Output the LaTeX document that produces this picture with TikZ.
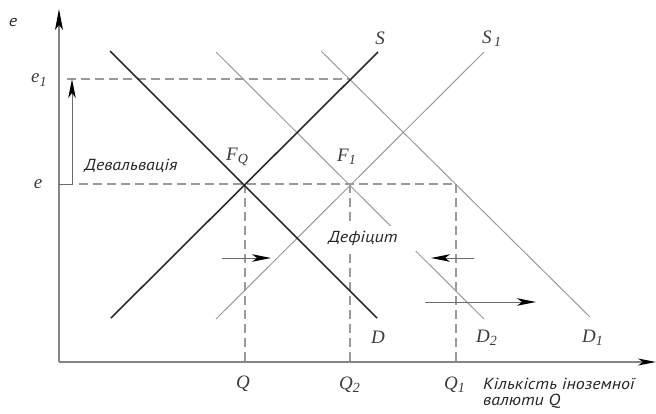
\documentclass[tikz,border=0pt]{standalone}
\usepackage{fontspec}
\setmainfont{Liberation Serif}
\newfontfamily\labsans[FakeStretch=1.12]{PT Sans}
\usetikzlibrary{arrows.meta}
\definecolor{axisc}{HTML}{858585}
\definecolor{darkc}{HTML}{2B2B2B}
\definecolor{thinc}{HTML}{9A9A9A}
\definecolor{dashc}{HTML}{9A9A9A}
\definecolor{labc}{HTML}{3F3A33}
\definecolor{arrc}{HTML}{6A6A6A}
\tikzset{
  tip/.style={-{Stealth[length=19pt,width=7.5pt,inset=5pt,color=black]}},
  axisline/.style={draw=axisc,line width=1.3pt},
  mainline/.style={draw=darkc,line width=1.6pt},
  thinline/.style={draw=thinc,line width=1pt},
  dashline/.style={draw=dashc,line width=1.3pt,dash pattern=on 9pt off 5pt},
  shiftarrow/.style={draw=arrc,line width=1pt,tip},
  mlab/.style={text=labc,font=\fontsize{19}{19}\selectfont\itshape,inner sep=0pt},
  slab/.style={text=black!85,font=\fontsize{16}{18}\selectfont\labsans\itshape,inner sep=0pt},
}
\newcommand{\sub}[1]{\textsubscript{\fontsize{14}{14}\selectfont #1}}
\begin{document}
\begin{tikzpicture}[x=1pt,y=-1pt]
\useasboundingbox (0,0) rectangle (656,413);
% coordinates
\coordinate (O) at (59,362);
\coordinate (Ytop) at (59,9);
\coordinate (Xend) at (656,362);
\coordinate (Sa) at (111,318); \coordinate (Sb) at (378,52);
\coordinate (Da) at (110,51); \coordinate (Db) at (377,318);
\coordinate (S1a) at (216,319); \coordinate (S1b) at (484,52);
\coordinate (D2a) at (216,52); \coordinate (D2b) at (484,319);
\coordinate (D1a) at (321,51); \coordinate (D1b) at (590,317);
\coordinate (FQ) at (245,184);
\coordinate (F1) at (350,184);
\coordinate (E1p) at (350,79);
\coordinate (Q1t) at (456,184);
\coordinate (Qb) at (245,362);
\coordinate (Q2b) at (350,362);
\coordinate (Q1b) at (456,362);
\coordinate (estart) at (79,184);
\coordinate (e1start) at (67,79);
\coordinate (eax) at (59,184);
\coordinate (dvb) at (72,184);
\coordinate (dvt) at (72,79);
% thin curves
\draw[thinline] (S1a) -- (S1b);
\draw[thinline] (D2a) -- (D2b);
\draw[thinline] (D1a) -- (D1b);
% dashed guides
\draw[dashline] (estart) -- (Q1t);
\draw[dashline] (e1start) -- (E1p);
\draw[dashline] (FQ) -- (Qb);
\draw[dashline] (F1) -- (Q2b);
\draw[dashline] (Q1t) -- (Q1b);
% main curves
\draw[mainline] (Sa) -- (Sb);
\draw[mainline] (Da) -- (Db);
% axes
\draw[axisline,-{Stealth[length=21pt,width=8pt,inset=5pt,color=black]}] (O) -- (Ytop);
\draw[axisline,-{Stealth[length=18pt,width=7pt,inset=5pt,color=black]}] (O) -- (Xend);
% devaluation arrow
\draw[shiftarrow] (eax) -- (dvb) -- (dvt);
% shift arrows
\coordinate (a1s) at (222,258); \coordinate (a1e) at (271,258);
\coordinate (a2s) at (474,258); \coordinate (a2e) at (431,258);
\coordinate (a3s) at (425,302); \coordinate (a3e) at (536,302);
\draw[shiftarrow] (a1s) -- (a1e);
\draw[shiftarrow] (a2s) -- (a2e);
\draw[shiftarrow] (a3s) -- (a3e);
% deficit label with white box
\node[fill=white,minimum width=96pt,minimum height=25pt,inner sep=0pt] (defbox) at (368,238.5) {};
\node[slab] (def) at (363,238) {Дефіцит};
% labels
\node[slab] (elab) at (13,22) {e};
\node[mlab,anchor=west] (e1lab) at (31,80) {e\sub{1}};
\node[mlab] (elab2) at (38,184) {e};
\node[slab] (deval) at (131,166) {Девальвація};
\node[mlab,anchor=west] (fqlab) at (226,157) {F\sub{Q}};
\node[mlab,anchor=west] (f1lab) at (337,157) {F\sub{1}};
\node[mlab] (slabel) at (380,38) {S};
\node[mlab,anchor=west] (s1lab) at (482,39) {S\sub{\,1}};
\node[mlab] (dlab) at (378,337) {D};
\node[mlab,anchor=west] (d2lab) at (476,338) {D\sub{2}};
\node[mlab,anchor=west] (d1lab) at (582,338) {D\sub{1}};
\node[mlab] (qlab) at (243,384) {Q};
\node[mlab,anchor=west] (q2lab) at (339,385) {Q\sub{2}};
\node[mlab,anchor=west] (q1lab) at (444,385) {Q\sub{1}};
\node[slab,anchor=west] (xl1) at (483,384) {Кількість іноземної};
\node[slab,anchor=west] (xl2) at (483,401) {валюти Q};
\end{tikzpicture}
\end{document}
